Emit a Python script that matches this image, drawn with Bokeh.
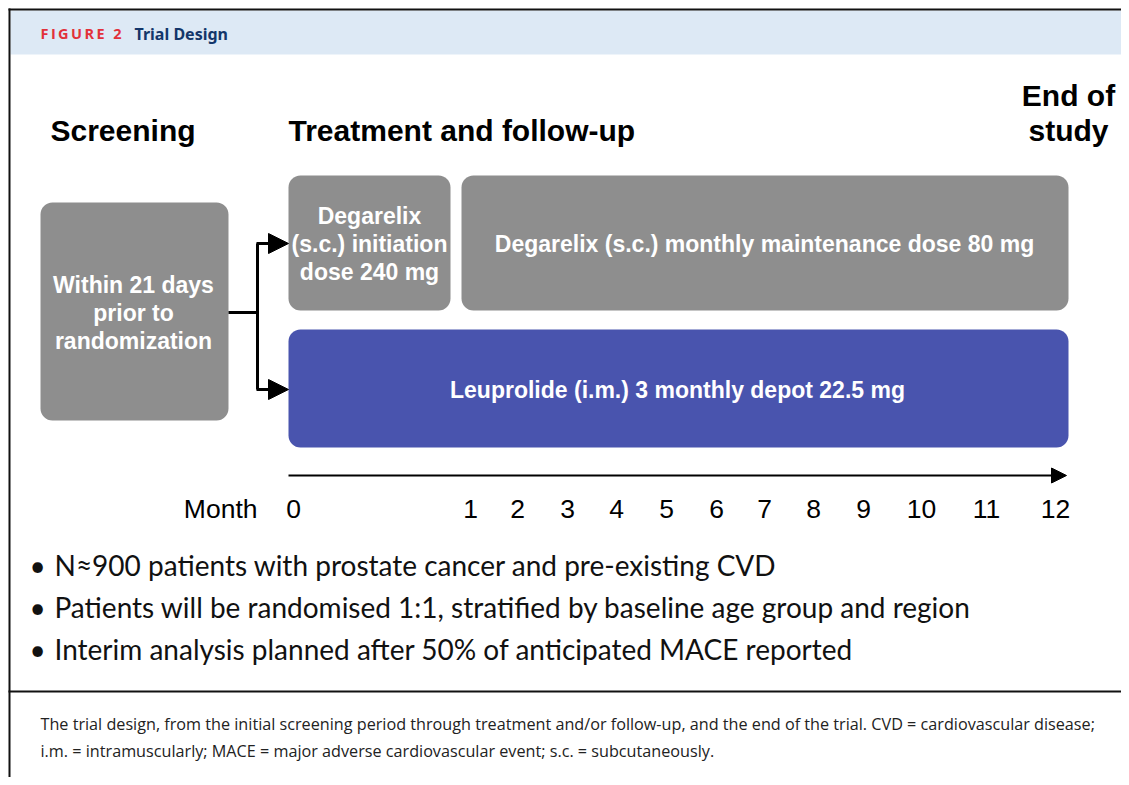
from bokeh.plotting import figure
from bokeh.models import Range1d, Arrow, NormalHead
from bokeh.core.properties import value
from bokeh.embed import file_html
from bokeh.resources import INLINE

# ---------------- content ----------------
figure_tag = "FIGURE 2"
figure_title = "Trial Design"
phase_labels = ["Screening", "Treatment and follow-up"]
end_label = ["End of", "study"]
screening_text = ["Within 21 days", "prior to", "randomization"]
initiation_text = ["Degarelix", "(s.c.) initiation", "dose 240 mg"]
maintenance_text = ["Degarelix (s.c.) monthly maintenance dose 80 mg"]
leuprolide_text = ["Leuprolide (i.m.) 3 monthly depot 22.5 mg"]
month_axis_label = "Month"
month_labels = ["0", "1", "2", "3", "4", "5", "6", "7", "8", "9", "10", "11", "12"]
bullets = [
    "N\u2248900 patients with prostate cancer and pre-existing CVD",
    "Patients will be randomised 1:1, stratified by baseline age group and region",
    "Interim analysis planned after 50% of anticipated MACE reported",
]
caption_lines = [
    "The trial design, from the initial screening period through treatment and/or follow-up, and the end of the trial. CVD = cardiovascular disease;",
    "i.m. = intramuscularly; MACE = major adverse cardiovascular event; s.c. = subcutaneously.",
]

# ---------------- layout (pixel positions in the picture) ----------------
month_x = [293, 470, 517, 567, 616, 666, 716, 764, 813, 863, 921, 986, 1055]
W, H = 1121, 777


def Y(py):
    return H - py


def spaced(s):
    # letter-spaced tag like the journal's "FIGURE" label
    return "\u2006".join(s)


GREY = "#8e8e8e"
BLUE = "#4954ae"
ARIAL = value("Liberation Sans")

p = figure(width=W, height=H, output_backend="svg", toolbar_location=None,
           x_range=Range1d(0, W), y_range=Range1d(0, H),
           x_axis_type=None, y_axis_type=None, min_border=0)
p.grid.visible = False
p.outline_line_color = None
p.background_fill_color = "white"
p.border_fill_color = "white"

# frame and header
p.quad(left=[10], right=[W], top=[Y(10)], bottom=[Y(54)], fill_color="#dde9f5", line_color=None)
p.line([9, 9], [Y(8), Y(H)], line_color="#111111", line_width=2)
p.line([8, W], [Y(9), Y(9)], line_color="#111111", line_width=2)
p.line([8, W], [Y(691), Y(691)], line_color="#111111", line_width=2)

p.text(x=[40], y=[Y(33)], text=[spaced(figure_tag)], text_font=value("Open Sans"), text_font_style="bold",
       text_font_size="14.5px", text_color="#e2313b", text_baseline="middle", text_align="left")
p.text(x=[134], y=[Y(33)], text=[figure_title], text_font=value("Noto Sans"), text_font_style="bold",
       text_font_size="16px", text_color="#13366a", text_baseline="middle", text_align="left")

# phase headings
p.text(x=[50, 288], y=[Y(130), Y(130)], text=phase_labels, text_font=ARIAL, text_font_style="bold",
       text_font_size="30px", text_color="black", text_baseline="middle", text_align="left")
p.text(x=[1068, 1068], y=[Y(95), Y(130)], text=end_label, text_font=ARIAL, text_font_style="bold",
       text_font_size="30px", text_color="black", text_baseline="middle", text_align="center")

# boxes
p.quad(left=[40, 288, 461], right=[228, 450, 1068], top=[Y(202), Y(175), Y(175)],
       bottom=[Y(420), Y(310), Y(310)], fill_color=GREY, line_color=None, border_radius=12)
p.quad(left=[288], right=[1068], top=[Y(329)], bottom=[Y(447)], fill_color=BLUE, line_color=None,
       border_radius=12)

box_font = dict(text_font=ARIAL, text_font_style="bold", text_font_size="23px", text_color="white",
                text_baseline="middle", text_align="center")
p.text(x=[133] * 3, y=[Y(284), Y(312), Y(340)], text=screening_text, **box_font)
p.text(x=[369] * 3, y=[Y(215), Y(243), Y(271)], text=initiation_text, **box_font)
p.text(x=[764], y=[Y(243)], text=maintenance_text, **box_font)
p.text(x=[677], y=[Y(389)], text=leuprolide_text, **box_font)

# connector
p.line([228, 257], [Y(312), Y(312)], line_color="black", line_width=3)
p.line([257, 257], [Y(243), Y(389)], line_color="black", line_width=3)
for yy in (243, 389):
    p.add_layout(Arrow(end=NormalHead(size=20, fill_color="black", line_color="black"),
                       x_start=256, y_start=Y(yy), x_end=288, y_end=Y(yy),
                       line_color="black", line_width=3))

# timeline
p.add_layout(Arrow(end=NormalHead(size=15, fill_color="black", line_color="black"),
                   x_start=288, y_start=Y(475), x_end=1066, y_end=Y(475),
                   line_color="black", line_width=2))
p.text(x=[257], y=[Y(508)], text=[month_axis_label], text_font=ARIAL, text_font_size="26.5px",
       text_color="black", text_baseline="middle", text_align="right")
p.text(x=month_x, y=[Y(508)] * len(month_labels), text=month_labels, text_font=ARIAL,
       text_font_size="26.5px", text_color="black", text_baseline="middle", text_align="center")

# bullets
bullet_y = [Y(564), Y(606), Y(648)]
p.text(x=[37] * 3, y=bullet_y, text=["\u2022"] * 3, text_font=value("Lato"), text_font_size="28px",
       text_color="#111111", text_baseline="middle", text_align="center")
p.text(x=[54] * 3, y=bullet_y, text=bullets, text_font=value("Lato"), text_font_size="28px",
       text_color="#111111", text_baseline="middle", text_align="left")

# caption
p.text(x=[40, 40], y=[Y(723), Y(750)], text=caption_lines, text_font=value("Open Sans"),
       text_font_size="16.2px", text_color="#222222", text_baseline="middle", text_align="left")

open("out.html", "w").write(file_html(p, INLINE))
